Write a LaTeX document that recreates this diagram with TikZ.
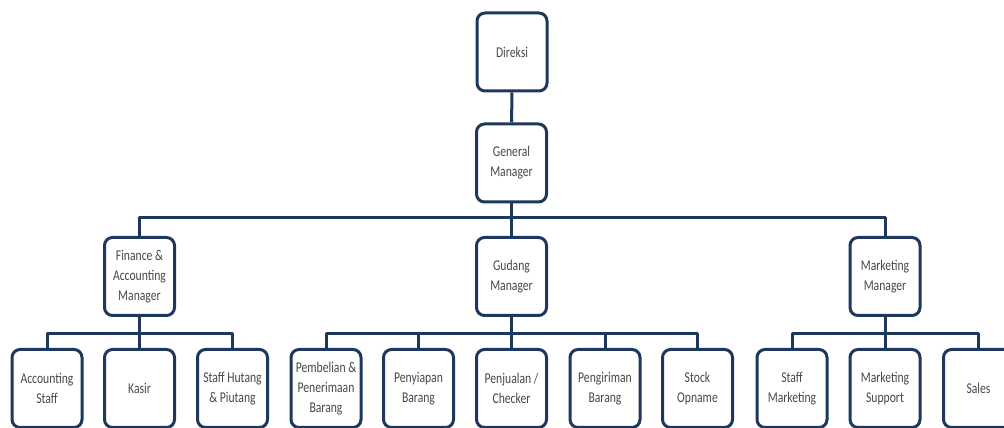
\documentclass[tikz,border=0pt]{standalone}
\usepackage{fontspec}
\setmainfont{Carlito}[FakeStretch=0.78]
\definecolor{orgline}{RGB}{30,55,92}
\definecolor{orgtext}{RGB}{72,72,72}
\tikzset{
  unit/.style={draw=orgline, line width=3bp, rounded corners=8bp, fill=white,
    minimum width=70bp, minimum height=78bp, inner sep=1bp, align=center,
    text=orgtext, font=\fontsize{15}{20}\selectfont},
  link/.style={draw=orgline, line width=3bp},
}
\begin{document}
\begin{tikzpicture}[line join=bevel,]
\clip (0bp,0bp) rectangle (1004bp,428bp);
\fill[white] (0bp,0bp) rectangle (1004bp,428bp);
  % Bus levels
  \coordinate (topbus) at (0bp,210bp);
  \coordinate (subbus) at (0bp,94bp);
  % Node: direksi
  \node[unit] (direksi) at (512bp,376bp) {Direksi};
  % Node: gm
  \node[unit] (gm) at (511.5bp,265bp) {General\\Manager};
  % Node: fin
  \node[unit] (fin) at (139.5bp,151.5bp) {Finance \&\\Accounting\\Manager};
  % Node: gudang
  \node[unit] (gudang) at (511.5bp,151.5bp) {Gudang\\Manager};
  % Node: mkt
  \node[unit] (mkt) at (885bp,151.5bp) {Marketing\\Manager};
  % Nodes: finance staff
  \node[unit] (accstaff) at (47bp,39.5bp) {Accounting\\Staff};
  \node[unit] (kasir) at (139.5bp,39.5bp) {Kasir};
  \node[unit] (hutang) at (232.5bp,39.5bp) {Staff Hutang\\\& Piutang};
  % Nodes: gudang staff
  \node[unit] (beli) at (326bp,39.5bp) {Pembelian \&\\Penerimaan\\Barang};
  \node[unit] (siap) at (418.5bp,39.5bp) {Penyiapan\\Barang};
  \node[unit] (jual) at (511.5bp,39.5bp) {Penjualan /\\Checker};
  \node[unit] (kirim) at (605bp,39.5bp) {Pengiriman\\Barang};
  \node[unit] (stock) at (697.5bp,39.5bp) {Stock\\Opname};
  % Nodes: marketing staff
  \node[unit] (smkt) at (792bp,39.5bp) {Staff\\Marketing};
  \node[unit] (msup) at (885bp,39.5bp) {Marketing\\Support};
  \node[unit] (sales) at (978.5bp,39.5bp) {Sales};
  % Edge: direksi -> gm
  \draw[link] (direksi) -- (gm);
  % Edges: gm -> managers
  \draw[link] (gm.south) -- (gm |- topbus) -| (fin.north);
  \draw[link] (gm.south) -- (gudang.north);
  \draw[link] (gm.south) -- (gm |- topbus) -| (mkt.north);
  % Edges: fin -> staff
  \foreach \s in {accstaff,kasir,hutang}
    \draw[link] (fin.south) -- (fin |- subbus) -| (\s.north);
  % Edges: gudang -> staff
  \foreach \s in {beli,siap,jual,kirim,stock}
    \draw[link] (gudang.south) -- (gudang |- subbus) -| (\s.north);
  % Edges: mkt -> staff
  \foreach \s in {smkt,msup,sales}
    \draw[link] (mkt.south) -- (mkt |- subbus) -| (\s.north);
\end{tikzpicture}
\end{document}
